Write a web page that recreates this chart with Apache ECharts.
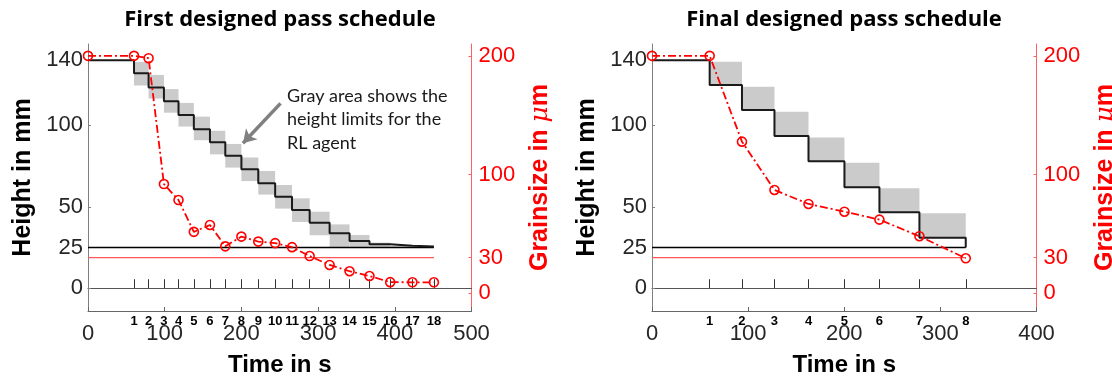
<!DOCTYPE html>
<html><head><meta charset="utf-8">
<script src="https://cdn.jsdelivr.net/npm/echarts@6/dist/echarts.min.js"></script>
<style>html,body{margin:0;padding:0;background:#fff}#c{width:1112px;height:381px}</style>
</head><body><div id="c"></div>
<script>
// ---- Left panel: first designed pass schedule ----
const passTimesFirst = [60, 79, 99, 118, 138, 159, 179, 200, 222, 244, 266, 289, 315, 341, 367, 394, 423, 451];
const heightsFirst = [140, 132, 123.3, 114.8, 106.4, 97.7, 89.6, 81.3, 73, 64.4, 56.2, 48, 40.2, 33.7, 29, 27, 26.1, 25.6, 25.3];
const grainFirst = [200, 200, 198, 92, 78.5, 51.7, 57.5, 39.5, 47.7, 43.5, 42.2, 38.8, 31.3, 23.8, 18.5, 14.5, 9.3, 9.2, 9.2];
const limitLowFirst = [124.5, 116.5, 107.8, 99.3, 90.9, 82.2, 74.1, 65.8, 57.5, 48.9, 40.7, 32.5, 25, 25, 25, 25, 25];
const limitHighFirst = [139, 131, 122.3, 113.8, 105.4, 96.7, 88.6, 80.3, 72, 63.4, 55.2, 47, 39.2, 32.7, 28, 26, 25.5];

// ---- Right panel: final designed pass schedule ----
const passTimesFinal = [60, 93.6, 127.4, 162.8, 200.2, 236.6, 278.2, 326.4];
const heightsFinal = [140, 124.8, 109.5, 93.5, 78, 62, 46.6, 31, 25];
const grainFinal = [200, 200, 127.7, 87, 75.2, 68.7, 62, 48, 29.4];
const limitLowFinal = [124.8, 109.5, 93.5, 78, 62, 46.6, 31];
const limitHighFinal = [139.1, 123.8, 108.4, 92.5, 77.1, 61.4, 46];

// ---- axes / reference values ----
const heightTicks = [0, 25, 50, 100, 140];
const grainTicks = [0, 30, 100, 200];
const targetHeight = 25;
const targetGrain = 30;
const timeMaxFirst = 500;
const timeMaxFinal = 400;
const arrowFrom = [251, 113.5];
const arrowTo = [202, 89];

const FONT = '"Liberation Sans", Arial, sans-serif';
const chart = echarts.init(document.getElementById('c'), null, {renderer: 'canvas', width: 1112, height: 381});

function zip(xs, ys) { return xs.map((x, i) => [x, ys[i]]); }

function boxRender(params, api) {
  const p1 = api.coord([api.value(0), api.value(3)]);
  const p2 = api.coord([api.value(1), api.value(2)]);
  return {type: 'rect', shape: {x: p1[0], y: p1[1], width: p2[0] - p1[0], height: p2[1] - p1[1]},
          style: {fill: '#cbcbcb'}};
}

function panelSeries(gi, passTimes, heights, grain, lows, highs, withArrow) {
  const xi = gi * 2, yh = gi * 2, yg = gi * 2 + 1;
  const times = [0].concat(passTimes);
  const last = passTimes[passTimes.length - 1];
  const boxes = passTimes.slice(0, -1).map((s, i) => [s, passTimes[i + 1], lows[i], highs[i]]);
  const target = {type: 'line', xAxisIndex: xi, yAxisIndex: yh, data: [[0, targetHeight], [last, targetHeight]],
    symbol: 'none', lineStyle: {color: '#000', width: 1.5}, z: 2, silent: true};
  if (withArrow) {
    target.markLine = {silent: true, symbol: ['none', 'arrow'], symbolSize: [12, 13], label: {show: false},
      lineStyle: {color: '#808080', width: 3.5, type: 'solid'}, data: [[{coord: arrowFrom}, {coord: arrowTo}]]};
  }
  return [
    {type: 'custom', xAxisIndex: xi, yAxisIndex: yh, renderItem: boxRender, data: boxes,
     encode: {x: [0, 1], y: [2, 3]}, z: 1, silent: true},
    target,
    {type: 'line', step: 'end', xAxisIndex: xi, yAxisIndex: yh, data: zip(times, heights), symbol: 'none',
     lineStyle: {color: '#1a1a1a', width: 2}, z: 3, silent: true},
    {type: 'line', xAxisIndex: xi, yAxisIndex: yg, data: [[0, targetGrain], [last, targetGrain]], symbol: 'none',
     lineStyle: {color: '#ff5555', width: 1.2}, z: 2, silent: true},
    {type: 'line', xAxisIndex: xi, yAxisIndex: yg, data: zip(times, grain), symbol: 'circle', symbolSize: 9,
     itemStyle: {color: 'rgba(255,255,255,0)', borderColor: '#ff0000', borderWidth: 1.6},
     lineStyle: {color: '#ff0000', width: 1.8, type: [8, 3, 2, 3]}, z: 4, clip: false, silent: true}
  ];
}

function xAxes(gi, max, passTimes, yIndex) {
  return [
    {gridIndex: gi, type: 'value', min: 0, max: max, interval: 100, position: 'bottom',
     axisLine: {onZero: false, lineStyle: {color: '#666', width: 1}},
     axisTick: {inside: true, length: 4, lineStyle: {color: '#666'}},
     axisLabel: {fontFamily: FONT, fontSize: 22, color: '#262626', margin: 12},
     splitLine: {show: false},
     name: 'Time in s', nameLocation: 'middle', nameGap: 42,
     nameTextStyle: {fontFamily: FONT, fontSize: 24, fontWeight: 'bold', color: '#000'}},
    {gridIndex: gi, type: 'value', min: 0, max: max, position: 'bottom',
     axisLine: {onZero: true, onZeroAxisIndex: yIndex, lineStyle: {color: '#555'}},
     axisTick: {inside: true, length: 9, customValues: passTimes, lineStyle: {color: '#333'}},
     axisLabel: {customValues: passTimes, formatter: v => String(passTimes.indexOf(v) + 1),
       fontFamily: FONT, fontSize: 13, fontWeight: 'bold', color: '#000', margin: 4},
     splitLine: {show: false}}
  ];
}

function yAxes(gi) {
  return [
    {gridIndex: gi, type: 'value', min: -14, max: 150, position: 'left',
     axisLine: {show: true, onZero: false, lineStyle: {color: '#808080'}},
     axisTick: {show: true, inside: true, length: 3, customValues: heightTicks, lineStyle: {color: '#808080'}},
     axisLabel: {customValues: heightTicks, fontFamily: FONT, fontSize: 22, color: '#262626', margin: 5},
     splitLine: {show: false},
     name: 'Height in mm', nameLocation: 'middle', nameRotate: 90, nameGap: 52,
     nameTextStyle: {fontFamily: FONT, fontSize: 25, fontWeight: 'bold', color: '#000'}},
    {gridIndex: gi, type: 'value', min: -15, max: 210, position: 'right',
     axisLine: {show: true, onZero: false, lineStyle: {color: '#ff6060'}},
     axisTick: {show: true, inside: true, length: 3, customValues: grainTicks, lineStyle: {color: '#ff6060'}},
     axisLabel: {customValues: grainTicks, fontFamily: FONT, fontSize: 22, color: '#ff0000', margin: 7},
     splitLine: {show: false},
     name: 'Grainsize in {mu|μ}m', nameLocation: 'middle', nameRotate: 90, nameGap: 56,
     nameTextStyle: {fontFamily: FONT, fontSize: 25, fontWeight: 'bold', color: '#ff0000',
       rich: {mu: {fontFamily: '"DejaVu Serif", serif', fontStyle: 'italic', fontWeight: 'normal', fontSize: 25, color: '#ff0000'}}}}
  ];
}

const option = {
  animation: false,
  backgroundColor: '#fff',
  grid: [
    {left: 88, top: 44, width: 383.5, height: 267, outerBoundsMode: 'none', containLabel: false},
    {left: 652, top: 44, width: 384.5, height: 267, outerBoundsMode: 'none', containLabel: false}
  ],
  xAxis: xAxes(0, timeMaxFirst, passTimesFirst, 0).concat(xAxes(1, timeMaxFinal, passTimesFinal, 2)),
  yAxis: yAxes(0).concat(yAxes(1)),
  series: panelSeries(0, passTimesFirst, heightsFirst, grainFirst, limitLowFirst, limitHighFirst, true)
    .concat(panelSeries(1, passTimesFinal, heightsFinal, grainFinal, limitLowFinal, limitHighFinal, false)),
  graphic: [
    {type: 'text', x: 280, y: 20, style: {text: 'First designed pass schedule', font: 'bold 22px "Open Sans"', fill: '#000', align: 'center', verticalAlign: 'middle'}},
    {type: 'text', x: 844, y: 20, style: {text: 'Final designed pass schedule', font: 'bold 22px "Open Sans"', fill: '#000', align: 'center', verticalAlign: 'middle'}},
    {type: 'text', x: 287, y: 84, style: {text: 'Gray area shows the\nheight limits for the\nRL agent', font: '18px Lato', lineHeight: 23.5, fill: '#1a1a1a', align: 'left', verticalAlign: 'top'}}
  ]
};
chart.setOption(option);
</script></body></html>
